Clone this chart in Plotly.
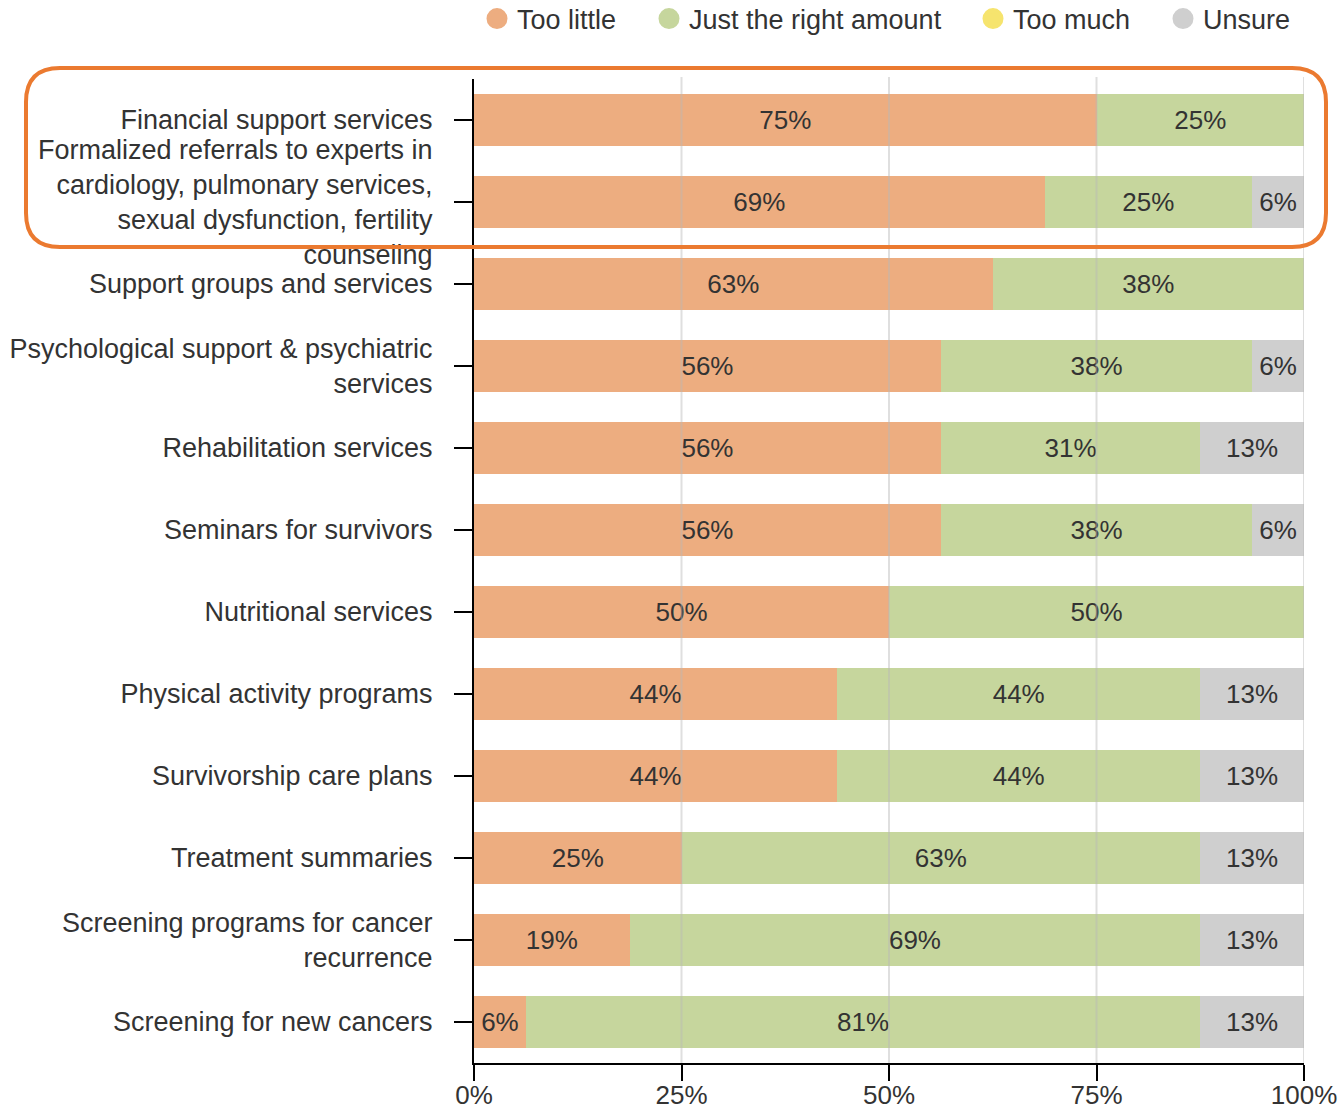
import plotly.graph_objects as go

categories = [
    "Financial support services",
    "Formalized referrals to experts in<br>cardiology, pulmonary services,<br>sexual dysfunction, fertility<br>counseling",
    "Support groups and services",
    "Psychological support & psychiatric<br>services",
    "Rehabilitation services",
    "Seminars for survivors",
    "Nutritional services",
    "Physical activity programs",
    "Survivorship care plans",
    "Treatment summaries",
    "Screening programs for cancer<br>recurrence",
    "Screening for new cancers",
]

too_little = [75, 68.75, 62.5, 56.25, 56.25, 56.25, 50, 43.75, 43.75, 25, 18.75, 6.25]
just_right = [25, 25, 37.5, 37.5, 31.25, 37.5, 50, 43.75, 43.75, 62.5, 68.75, 81.25]
too_much = [0, 0, 0, 0, 0, 0, 0, 0, 0, 0, 0, 0]
unsure = [0, 6.25, 0, 6.25, 12.5, 6.25, 0, 12.5, 12.5, 12.5, 12.5, 12.5]

series_names = ["Too little", "Just the right amount", "Too much", "Unsure"]
series_values = [too_little, just_right, too_much, unsure]
series_colors = ["#EDAD80", "#C6D69D", "#F6E46E", "#CFCFCF"]

x_ticks = [0, 25, 50, 75, 100]

FONT = "Liberation Sans, Arial, sans-serif"
FS = 26
FS_LBL = 27

# legend circle centres (pixels) for each series
legend_px = [497, 669, 993, 1183]

def fmt(v):
    if v <= 0:
        return ""
    return f"{int(v + 0.5)}%"

W, H = 1342, 1110
L, R, T, B = 474, 38, 79, 47
pw, ph = W - L - R, H - T - B

legend_names = ["legend", "legend2", "legend3", "legend4"]

fig = go.Figure()
for name, vals, col, lg in zip(series_names, series_values, series_colors, legend_names):
    fig.add_trace(go.Bar(
        y=categories, x=vals, name=name, orientation="h",
        marker=dict(color=col, line=dict(width=0)),
        text=[fmt(v) for v in vals], textposition="inside",
        insidetextanchor="middle", constraintext="none",
        textfont=dict(size=FS, color="#333333", family=FONT),
        showlegend=False, hoverinfo="x+name",
    ))
    fig.add_trace(go.Scatter(
        x=[None], y=[None], mode="markers", name=name, legend=lg,
        marker=dict(symbol="circle", size=16, color=col, line=dict(color=col, width=5)),
        showlegend=True,
    ))

def px(X):
    return (X - L) / pw

def py(Y):
    return (H - B - Y) / ph

shapes = []
# gridlines drawn over bars
for tv in x_ticks[1:]:
    shapes.append(dict(type="line", xref="x", yref="paper", x0=tv, x1=tv, y0=0, y1=1.002,
                       line=dict(color="rgba(185,185,185,0.45)", width=2), layer="above"))

# rounded highlight box
x0, x1, y0, y1, r = 26, 1326, 68, 247, 34
path = (
    f"M {px(x0 + r)} {py(y0)} L {px(x1 - r)} {py(y0)} "
    f"Q {px(x1)} {py(y0)} {px(x1)} {py(y0 + r)} "
    f"L {px(x1)} {py(y1 - r)} Q {px(x1)} {py(y1)} {px(x1 - r)} {py(y1)} "
    f"L {px(x0 + r)} {py(y1)} Q {px(x0)} {py(y1)} {px(x0)} {py(y1 - r)} "
    f"L {px(x0)} {py(y0 + r)} Q {px(x0)} {py(y0)} {px(x0 + r)} {py(y0)} Z"
)
shapes.append(dict(type="path", xref="paper", yref="paper", path=path,
                   line=dict(color="#EB7A30", width=4), layer="above"))

legends = {}
for lg, cx in zip(legend_names, legend_px):
    legends[lg] = dict(orientation="h", xref="container", yref="container",
                       xanchor="left", x=(cx - 20) / W, yanchor="middle", y=1 - 19 / H,
                       font=dict(size=FS_LBL, color="#333333"), itemsizing="trace",
                       bgcolor="rgba(0,0,0,0)", borderwidth=0)

fig.update_layout(
    width=W, height=H,
    barmode="stack", bargap=0.36,
    margin=dict(l=L, r=R, t=T, b=B, pad=0, autoexpand=False),
    plot_bgcolor="white", paper_bgcolor="white",
    font=dict(family=FONT, size=FS, color="#333333"),
    shapes=shapes,
    xaxis=dict(range=[0, 100], tickvals=x_ticks, ticktext=[f"{v}%" for v in x_ticks],
               showgrid=False, zeroline=False, showline=True, linecolor="black", linewidth=2,
               ticks="outside", ticklen=16, tickwidth=2, tickcolor="black",
               tickfont=dict(size=FS, color="#333333", family=FONT),
               ticklabelstandoff=-8, fixedrange=True),
    yaxis=dict(autorange="reversed", showgrid=False, zeroline=False, showline=True,
               linecolor="black", linewidth=2, ticks="outside", ticklen=18, tickwidth=2,
               tickcolor="black", tickfont=dict(size=FS_LBL, color="#333333", family=FONT),
               ticklabelstandoff=16, fixedrange=True),
    **legends,
)

fig.write_html("out.html")
